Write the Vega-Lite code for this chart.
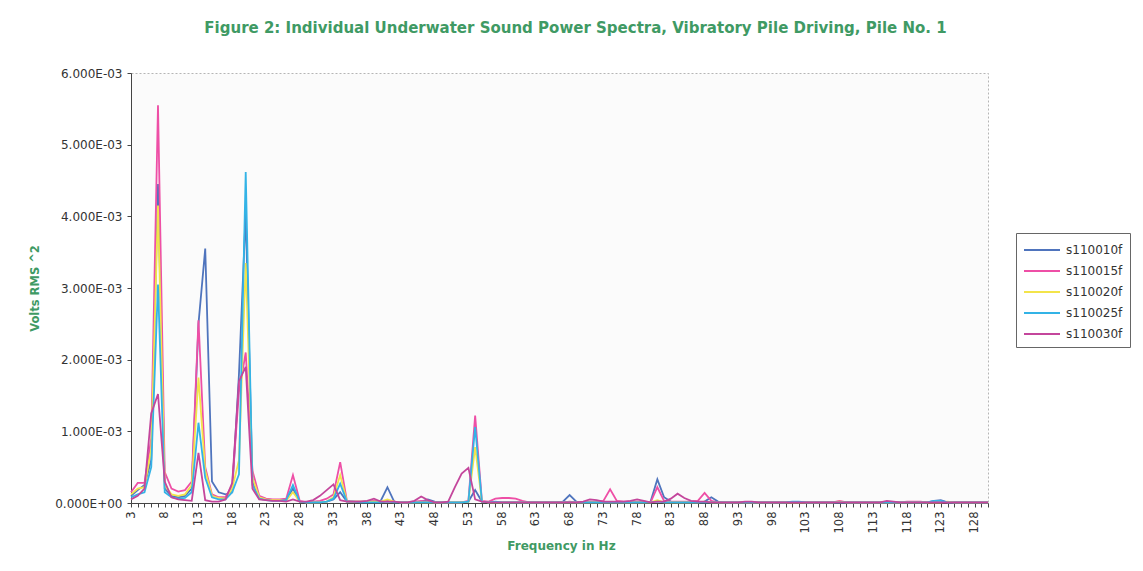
{
"$schema": "https://vega.github.io/schema/vega-lite/v6.json",
"width": 857, "height": 430,
"autosize": {"type": "none"},
"padding": {"left": 131, "top": 73, "right": 155, "bottom": 68},
"background": "white",
"title": {"text": "Figure 2: Individual Underwater Sound Power Spectra, Vibratory Pile Driving, Pile No. 1", "font": "DejaVu Sans", "fontSize": 15, "fontWeight": "bold", "color": "#3f9a64", "anchor": "middle", "offset": 31, "dx": 16},
"data": {"values": [
{"f":3,"s110010f":0.00010,"s110015f":0.00015,"s110020f":0.00012,"s110025f":0.00008,"s110030f":0.00005},
{"f":4,"s110010f":0.00018,"s110015f":0.00028,"s110020f":0.00020,"s110025f":0.00012,"s110030f":0.00010},
{"f":5,"s110010f":0.00025,"s110015f":0.00028,"s110020f":0.00022,"s110025f":0.00015,"s110030f":0.00020},
{"f":6,"s110010f":0.00060,"s110015f":0.00090,"s110020f":0.00075,"s110025f":0.00050,"s110030f":0.00125},
{"f":7,"s110010f":0.00445,"s110015f":0.00555,"s110020f":0.00415,"s110025f":0.00305,"s110030f":0.00152},
{"f":8,"s110010f":0.00020,"s110015f":0.00043,"s110020f":0.00025,"s110025f":0.00015,"s110030f":0.00030},
{"f":9,"s110010f":0.00010,"s110015f":0.00020,"s110020f":0.00012,"s110025f":0.00008,"s110030f":0.00008},
{"f":10,"s110010f":0.00008,"s110015f":0.00016,"s110020f":0.00010,"s110025f":0.00006,"s110030f":0.00005},
{"f":11,"s110010f":0.00010,"s110015f":0.00018,"s110020f":0.00012,"s110025f":0.00007,"s110030f":0.00004},
{"f":12,"s110010f":0.00020,"s110015f":0.00030,"s110020f":0.00025,"s110025f":0.00015,"s110030f":0.00003},
{"f":13,"s110010f":0.00250,"s110015f":0.00255,"s110020f":0.00175,"s110025f":0.00112,"s110030f":0.00070},
{"f":14,"s110010f":0.00355,"s110015f":0.00050,"s110020f":0.00045,"s110025f":0.00035,"s110030f":0.00004},
{"f":15,"s110010f":0.00030,"s110015f":0.00012,"s110020f":0.00010,"s110025f":0.00008,"s110030f":0.00002},
{"f":16,"s110010f":0.00015,"s110015f":0.00008,"s110020f":0.00007,"s110025f":0.00005,"s110030f":0.00002},
{"f":17,"s110010f":0.00012,"s110015f":0.00008,"s110020f":0.00006,"s110025f":0.00005,"s110030f":0.00005},
{"f":18,"s110010f":0.00015,"s110015f":0.00025,"s110020f":0.00020,"s110025f":0.00015,"s110030f":0.00028},
{"f":19,"s110010f":0.00180,"s110015f":0.00155,"s110020f":0.00060,"s110025f":0.00040,"s110030f":0.00170},
{"f":20,"s110010f":0.00405,"s110015f":0.00210,"s110020f":0.00335,"s110025f":0.00462,"s110030f":0.00190},
{"f":21,"s110010f":0.00030,"s110015f":0.00045,"s110020f":0.00035,"s110025f":0.00025,"s110030f":0.00020},
{"f":22,"s110010f":0.00008,"s110015f":0.00010,"s110020f":0.00008,"s110025f":0.00006,"s110030f":0.00005},
{"f":23,"s110010f":0.00005,"s110015f":0.00006,"s110020f":0.00005,"s110025f":0.00004,"s110030f":0.00004},
{"f":24,"s110010f":0.00004,"s110015f":0.00005,"s110020f":0.00004,"s110025f":0.00003,"s110030f":0.00003},
{"f":25,"s110010f":0.00004,"s110015f":0.00005,"s110020f":0.00004,"s110025f":0.00003,"s110030f":0.00003},
{"f":26,"s110010f":0.00005,"s110015f":0.00006,"s110020f":0.00003,"s110025f":0.00004,"s110030f":0.00002},
{"f":27,"s110010f":0.00020,"s110015f":0.00039,"s110020f":0.00015,"s110025f":0.00025,"s110030f":0.00005},
{"f":28,"s110010f":0.00002,"s110015f":0.00003,"s110020f":0.00002,"s110025f":0.00002,"s110030f":0.00002},
{"f":29,"s110010f":0.00001,"s110015f":0.00001,"s110020f":0.00001,"s110025f":0.00001,"s110030f":0.00002},
{"f":30,"s110010f":0.00001,"s110015f":0.00002,"s110020f":0.00001,"s110025f":0.00001,"s110030f":0.00004},
{"f":31,"s110010f":0.00001,"s110015f":0.00003,"s110020f":0.00001,"s110025f":0.00001,"s110030f":0.00010},
{"f":32,"s110010f":0.00002,"s110015f":0.00006,"s110020f":0.00002,"s110025f":0.00002,"s110030f":0.00018},
{"f":33,"s110010f":0.00005,"s110015f":0.00012,"s110020f":0.00008,"s110025f":0.00006,"s110030f":0.00026},
{"f":34,"s110010f":0.00015,"s110015f":0.00057,"s110020f":0.00039,"s110025f":0.00027,"s110030f":0.00004},
{"f":35,"s110010f":0.00002,"s110015f":0.00003,"s110020f":0.00002,"s110025f":0.00002,"s110030f":0.00002},
{"f":36,"s110010f":0.00002,"s110015f":0.00002,"s110020f":0.00002,"s110025f":0.00002,"s110030f":0.00002},
{"f":37,"s110010f":0.00002,"s110015f":0.00002,"s110020f":0.00002,"s110025f":0.00001,"s110030f":0.00002},
{"f":38,"s110010f":0.00002,"s110015f":0.00002,"s110020f":0.00002,"s110025f":0.00001,"s110030f":0.00003},
{"f":39,"s110010f":0.00002,"s110015f":0.00003,"s110020f":0.00002,"s110025f":0.00001,"s110030f":0.00006},
{"f":40,"s110010f":0.00003,"s110015f":0.00002,"s110020f":0.00002,"s110025f":0.00001,"s110030f":0.00002},
{"f":41,"s110010f":0.00022,"s110015f":0.00003,"s110020f":0.00005,"s110025f":0.00002,"s110030f":0.00002},
{"f":42,"s110010f":0.00002,"s110015f":0.00002,"s110020f":0.00002,"s110025f":0.00001,"s110030f":0.00002},
{"f":43,"s110010f":0.00001,"s110015f":0.00001,"s110020f":0.00001,"s110025f":0.00001,"s110030f":0.00001},
{"f":44,"s110010f":0.00001,"s110015f":0.00001,"s110020f":0.00001,"s110025f":0.00001,"s110030f":0.00001},
{"f":45,"s110010f":0.00001,"s110015f":0.00002,"s110020f":0.00001,"s110025f":0.00001,"s110030f":0.00003},
{"f":46,"s110010f":0.00002,"s110015f":0.00003,"s110020f":0.00001,"s110025f":0.00001,"s110030f":0.00009},
{"f":47,"s110010f":0.00005,"s110015f":0.00002,"s110020f":0.00001,"s110025f":0.00001,"s110030f":0.00004},
{"f":48,"s110010f":0.00002,"s110015f":0.00001,"s110020f":0.00001,"s110025f":0.00001,"s110030f":0.00001},
{"f":49,"s110010f":0.00001,"s110015f":0.00001,"s110020f":0.00001,"s110025f":0.00001,"s110030f":0.00001},
{"f":50,"s110010f":0.00001,"s110015f":0.00001,"s110020f":0.00001,"s110025f":0.00001,"s110030f":0.00002},
{"f":51,"s110010f":0.00001,"s110015f":0.00001,"s110020f":0.00001,"s110025f":0.00001,"s110030f":0.00022},
{"f":52,"s110010f":0.00001,"s110015f":0.00001,"s110020f":0.00001,"s110025f":0.00001,"s110030f":0.00041},
{"f":53,"s110010f":0.00002,"s110015f":0.00003,"s110020f":0.00002,"s110025f":0.00002,"s110030f":0.00049},
{"f":54,"s110010f":0.00018,"s110015f":0.00122,"s110020f":0.00078,"s110025f":0.00106,"s110030f":0.00005},
{"f":55,"s110010f":0.00002,"s110015f":0.00003,"s110020f":0.00002,"s110025f":0.00002,"s110030f":0.00002},
{"f":56,"s110010f":0.00001,"s110015f":0.00002,"s110020f":0.00001,"s110025f":0.00001,"s110030f":0.00001},
{"f":57,"s110010f":0.00001,"s110015f":0.00006,"s110020f":0.00001,"s110025f":0.00002,"s110030f":0.00001},
{"f":58,"s110010f":0.00001,"s110015f":0.00007,"s110020f":0.00001,"s110025f":0.00001,"s110030f":0.00001},
{"f":59,"s110010f":0.00001,"s110015f":0.00007,"s110020f":0.00001,"s110025f":0.00001,"s110030f":0.00001},
{"f":60,"s110010f":0.00001,"s110015f":0.00006,"s110020f":0.00001,"s110025f":0.00001,"s110030f":0.00001},
{"f":61,"s110010f":0.00001,"s110015f":0.00003,"s110020f":0.00001,"s110025f":0.00001,"s110030f":0.00001},
{"f":62,"s110010f":0.00001,"s110015f":0.00001,"s110020f":0.00001,"s110025f":0.00001,"s110030f":0.00001},
{"f":63,"s110010f":0.00001,"s110015f":0.00001,"s110020f":0.00001,"s110025f":0.00001,"s110030f":0.00001},
{"f":64,"s110010f":0.00001,"s110015f":0.00001,"s110020f":0.00001,"s110025f":0.00001,"s110030f":0.00001},
{"f":65,"s110010f":0.00001,"s110015f":0.00001,"s110020f":0.00001,"s110025f":0.00001,"s110030f":0.00001},
{"f":66,"s110010f":0.00001,"s110015f":0.00001,"s110020f":0.00001,"s110025f":0.00001,"s110030f":0.00001},
{"f":67,"s110010f":0.00002,"s110015f":0.00001,"s110020f":0.00001,"s110025f":0.00001,"s110030f":0.00001},
{"f":68,"s110010f":0.00011,"s110015f":0.00002,"s110020f":0.00001,"s110025f":0.00001,"s110030f":0.00001},
{"f":69,"s110010f":0.00002,"s110015f":0.00001,"s110020f":0.00001,"s110025f":0.00001,"s110030f":0.00001},
{"f":70,"s110010f":0.00001,"s110015f":0.00001,"s110020f":0.00001,"s110025f":0.00001,"s110030f":0.00002},
{"f":71,"s110010f":0.00001,"s110015f":0.00002,"s110020f":0.00001,"s110025f":0.00001,"s110030f":0.00005},
{"f":72,"s110010f":0.00001,"s110015f":0.00002,"s110020f":0.00001,"s110025f":0.00001,"s110030f":0.00004},
{"f":73,"s110010f":0.00001,"s110015f":0.00003,"s110020f":0.00001,"s110025f":0.00001,"s110030f":0.00002},
{"f":74,"s110010f":0.00001,"s110015f":0.00019,"s110020f":0.00001,"s110025f":0.00001,"s110030f":0.00002},
{"f":75,"s110010f":0.00001,"s110015f":0.00003,"s110020f":0.00001,"s110025f":0.00001,"s110030f":0.00002},
{"f":76,"s110010f":0.00001,"s110015f":0.00002,"s110020f":0.00001,"s110025f":0.00001,"s110030f":0.00002},
{"f":77,"s110010f":0.00001,"s110015f":0.00002,"s110020f":0.00001,"s110025f":0.00001,"s110030f":0.00003},
{"f":78,"s110010f":0.00001,"s110015f":0.00002,"s110020f":0.00001,"s110025f":0.00001,"s110030f":0.00005},
{"f":79,"s110010f":0.00001,"s110015f":0.00002,"s110020f":0.00001,"s110025f":0.00001,"s110030f":0.00003},
{"f":80,"s110010f":0.00002,"s110015f":0.00001,"s110020f":0.00001,"s110025f":0.00001,"s110030f":0.00001},
{"f":81,"s110010f":0.00033,"s110015f":0.00022,"s110020f":0.00004,"s110025f":0.00002,"s110030f":0.00002},
{"f":82,"s110010f":0.00008,"s110015f":0.00003,"s110020f":0.00001,"s110025f":0.00001,"s110030f":0.00002},
{"f":83,"s110010f":0.00002,"s110015f":0.00002,"s110020f":0.00001,"s110025f":0.00001,"s110030f":0.00006},
{"f":84,"s110010f":0.00001,"s110015f":0.00002,"s110020f":0.00001,"s110025f":0.00001,"s110030f":0.00013},
{"f":85,"s110010f":0.00001,"s110015f":0.00002,"s110020f":0.00001,"s110025f":0.00001,"s110030f":0.00007},
{"f":86,"s110010f":0.00001,"s110015f":0.00002,"s110020f":0.00001,"s110025f":0.00001,"s110030f":0.00003},
{"f":87,"s110010f":0.00001,"s110015f":0.00003,"s110020f":0.00001,"s110025f":0.00001,"s110030f":0.00002},
{"f":88,"s110010f":0.00002,"s110015f":0.00014,"s110020f":0.00002,"s110025f":0.00001,"s110030f":0.00002},
{"f":89,"s110010f":0.00008,"s110015f":0.00003,"s110020f":0.00001,"s110025f":0.00001,"s110030f":0.00001},
{"f":90,"s110010f":0.00002,"s110015f":0.00001,"s110020f":0.00001,"s110025f":0.00001,"s110030f":0.00001},
{"f":91,"s110010f":0.00001,"s110015f":0.00001,"s110020f":0.00001,"s110025f":0.00001,"s110030f":0.00001},
{"f":92,"s110010f":0.00001,"s110015f":0.00001,"s110020f":0.00001,"s110025f":0.00001,"s110030f":0.00001},
{"f":93,"s110010f":0.00001,"s110015f":0.00001,"s110020f":0.00001,"s110025f":0.00001,"s110030f":0.00001},
{"f":94,"s110010f":0.00001,"s110015f":0.00001,"s110020f":0.00001,"s110025f":0.00001,"s110030f":0.00002},
{"f":95,"s110010f":0.00001,"s110015f":0.00001,"s110020f":0.00001,"s110025f":0.00001,"s110030f":0.00002},
{"f":96,"s110010f":0.00001,"s110015f":0.00001,"s110020f":0.00001,"s110025f":0.00001,"s110030f":0.00001},
{"f":97,"s110010f":0.00001,"s110015f":0.00001,"s110020f":0.00001,"s110025f":0.00001,"s110030f":0.00001},
{"f":98,"s110010f":0.00001,"s110015f":0.00001,"s110020f":0.00001,"s110025f":0.00001,"s110030f":0.00001},
{"f":99,"s110010f":0.00001,"s110015f":0.00001,"s110020f":0.00001,"s110025f":0.00001,"s110030f":0.00001},
{"f":100,"s110010f":0.00001,"s110015f":0.00001,"s110020f":0.00001,"s110025f":0.00001,"s110030f":0.00001},
{"f":101,"s110010f":0.00001,"s110015f":0.00001,"s110020f":0.00001,"s110025f":0.00002,"s110030f":0.00001},
{"f":102,"s110010f":0.00001,"s110015f":0.00001,"s110020f":0.00001,"s110025f":0.00002,"s110030f":0.00001},
{"f":103,"s110010f":0.00001,"s110015f":0.00001,"s110020f":0.00001,"s110025f":0.00001,"s110030f":0.00001},
{"f":104,"s110010f":0.00001,"s110015f":0.00001,"s110020f":0.00001,"s110025f":0.00001,"s110030f":0.00001},
{"f":105,"s110010f":0.00001,"s110015f":0.00001,"s110020f":0.00001,"s110025f":0.00001,"s110030f":0.00001},
{"f":106,"s110010f":0.00001,"s110015f":0.00001,"s110020f":0.00001,"s110025f":0.00001,"s110030f":0.00001},
{"f":107,"s110010f":0.00001,"s110015f":0.00001,"s110020f":0.00001,"s110025f":0.00001,"s110030f":0.00001},
{"f":108,"s110010f":0.00001,"s110015f":0.00003,"s110020f":0.00002,"s110025f":0.00001,"s110030f":0.00001},
{"f":109,"s110010f":0.00001,"s110015f":0.00001,"s110020f":0.00001,"s110025f":0.00001,"s110030f":0.00001},
{"f":110,"s110010f":0.00001,"s110015f":0.00001,"s110020f":0.00001,"s110025f":0.00001,"s110030f":0.00001},
{"f":111,"s110010f":0.00001,"s110015f":0.00001,"s110020f":0.00001,"s110025f":0.00001,"s110030f":0.00001},
{"f":112,"s110010f":0.00001,"s110015f":0.00001,"s110020f":0.00001,"s110025f":0.00001,"s110030f":0.00001},
{"f":113,"s110010f":0.00001,"s110015f":0.00001,"s110020f":0.00001,"s110025f":0.00001,"s110030f":0.00001},
{"f":114,"s110010f":0.00001,"s110015f":0.00001,"s110020f":0.00001,"s110025f":0.00001,"s110030f":0.00001},
{"f":115,"s110010f":0.00001,"s110015f":0.00001,"s110020f":0.00001,"s110025f":0.00001,"s110030f":0.00003},
{"f":116,"s110010f":0.00001,"s110015f":0.00001,"s110020f":0.00001,"s110025f":0.00001,"s110030f":0.00002},
{"f":117,"s110010f":0.00001,"s110015f":0.00001,"s110020f":0.00001,"s110025f":0.00001,"s110030f":0.00001},
{"f":118,"s110010f":0.00001,"s110015f":0.00002,"s110020f":0.00001,"s110025f":0.00001,"s110030f":0.00001},
{"f":119,"s110010f":0.00001,"s110015f":0.00002,"s110020f":0.00001,"s110025f":0.00001,"s110030f":0.00001},
{"f":120,"s110010f":0.00001,"s110015f":0.00002,"s110020f":0.00001,"s110025f":0.00001,"s110030f":0.00001},
{"f":121,"s110010f":0.00001,"s110015f":0.00001,"s110020f":0.00001,"s110025f":0.00001,"s110030f":0.00001},
{"f":122,"s110010f":0.00003,"s110015f":0.00001,"s110020f":0.00001,"s110025f":0.00003,"s110030f":0.00001},
{"f":123,"s110010f":0.00004,"s110015f":0.00001,"s110020f":0.00001,"s110025f":0.00003,"s110030f":0.00001},
{"f":124,"s110010f":0.00001,"s110015f":0.00001,"s110020f":0.00002,"s110025f":0.00001,"s110030f":0.00001},
{"f":125,"s110010f":0.00001,"s110015f":0.00001,"s110020f":0.00001,"s110025f":0.00001,"s110030f":0.00001},
{"f":126,"s110010f":0.00001,"s110015f":0.00001,"s110020f":0.00001,"s110025f":0.00001,"s110030f":0.00001},
{"f":127,"s110010f":0.00001,"s110015f":0.00001,"s110020f":0.00001,"s110025f":0.00001,"s110030f":0.00001},
{"f":128,"s110010f":0.00001,"s110015f":0.00001,"s110020f":0.00001,"s110025f":0.00001,"s110030f":0.00001},
{"f":129,"s110010f":0.00001,"s110015f":0.00001,"s110020f":0.00001,"s110025f":0.00001,"s110030f":0.00001},
{"f":130,"s110010f":0.00001,"s110015f":0.00001,"s110020f":0.00001,"s110025f":0.00001,"s110030f":0.00001}
]},
"transform": [{"fold": ["s110010f","s110015f","s110020f","s110025f","s110030f"], "as": ["series","value"]}],
"mark": {"type": "line", "strokeWidth": 1.8},
"encoding": {
  "x": {"field": "f", "type": "quantitative",
    "scale": {"domain": [3, 130], "nice": false, "zero": false},
    "axis": {"values": [3,4,5,6,7,8,9,10,11,12,13,14,15,16,17,18,19,20,21,22,23,24,25,26,27,28,29,30,31,32,33,34,35,36,37,38,39,40,41,42,43,44,45,46,47,48,49,50,51,52,53,54,55,56,57,58,59,60,61,62,63,64,65,66,67,68,69,70,71,72,73,74,75,76,77,78,79,80,81,82,83,84,85,86,87,88,89,90,91,92,93,94,95,96,97,98,99,100,101,102,103,104,105,106,107,108,109,110,111,112,113,114,115,116,117,118,119,120,121,122,123,124,125,126,127,128,129,130],
      "labelExpr": "(datum.value - 3) % 5 == 0 ? datum.label : ''",
      "labelAngle": -90, "labelOverlap": false, "labelFlush": false, "labelPadding": 4,
      "labelFont": "DejaVu Sans", "labelFontSize": 11.5, "labelColor": "#333333",
      "tickSize": 4, "tickColor": "#444444", "domainColor": "#444444", "grid": false,
      "title": "Frequency in Hz", "titleFont": "DejaVu Sans", "titleFontSize": 12, "titleFontWeight": "bold", "titleColor": "#3f9a64",
      "titleX": 430, "titleY": 42, "titleBaseline": "middle", "titleAlign": "center"}},
  "y": {"field": "value", "type": "quantitative",
    "scale": {"domain": [0, 0.006], "nice": false},
    "axis": {"values": [0, 0.001, 0.002, 0.003, 0.004, 0.005, 0.006],
      "labelExpr": "datum.value == 0 ? '0.000E+00' : format(datum.value * 1000, '.3f') + 'E-03'",
      "labelFont": "DejaVu Sans", "labelFontSize": 12, "labelColor": "#333333", "labelPadding": 5,
      "tickSize": 4, "tickColor": "#444444", "domainColor": "#444444", "grid": false,
      "title": "Volts RMS ^2", "titleFont": "DejaVu Sans", "titleFontSize": 11.5, "titleFontWeight": "bold", "titleColor": "#3f9a64",
      "titleX": -96, "titleY": 215, "titleBaseline": "middle", "titleAlign": "center", "titleAngle": -90}},
  "color": {"field": "series", "type": "nominal",
    "scale": {"domain": ["s110010f","s110015f","s110020f","s110025f","s110030f"], "range": ["#4f74bd","#ee4fa6","#f3e44a","#33b3e6","#c4469c"]},
    "legend": {"title": null, "orient": "none", "legendX": 885, "legendY": 160,
      "symbolType": "M-1,0L3,0", "symbolSize": 324, "symbolStrokeWidth": 2,
      "labelFont": "DejaVu Sans", "labelFontSize": 12, "labelColor": "#333333", "labelOffset": 23,
      "strokeColor": "#666666", "fillColor": "white", "padding": 7, "rowPadding": 5}}
},
"config": {"view": {"stroke": "#b5b5b5", "strokeDash": [2, 2], "fill": "#fbfbfb"}}
}
